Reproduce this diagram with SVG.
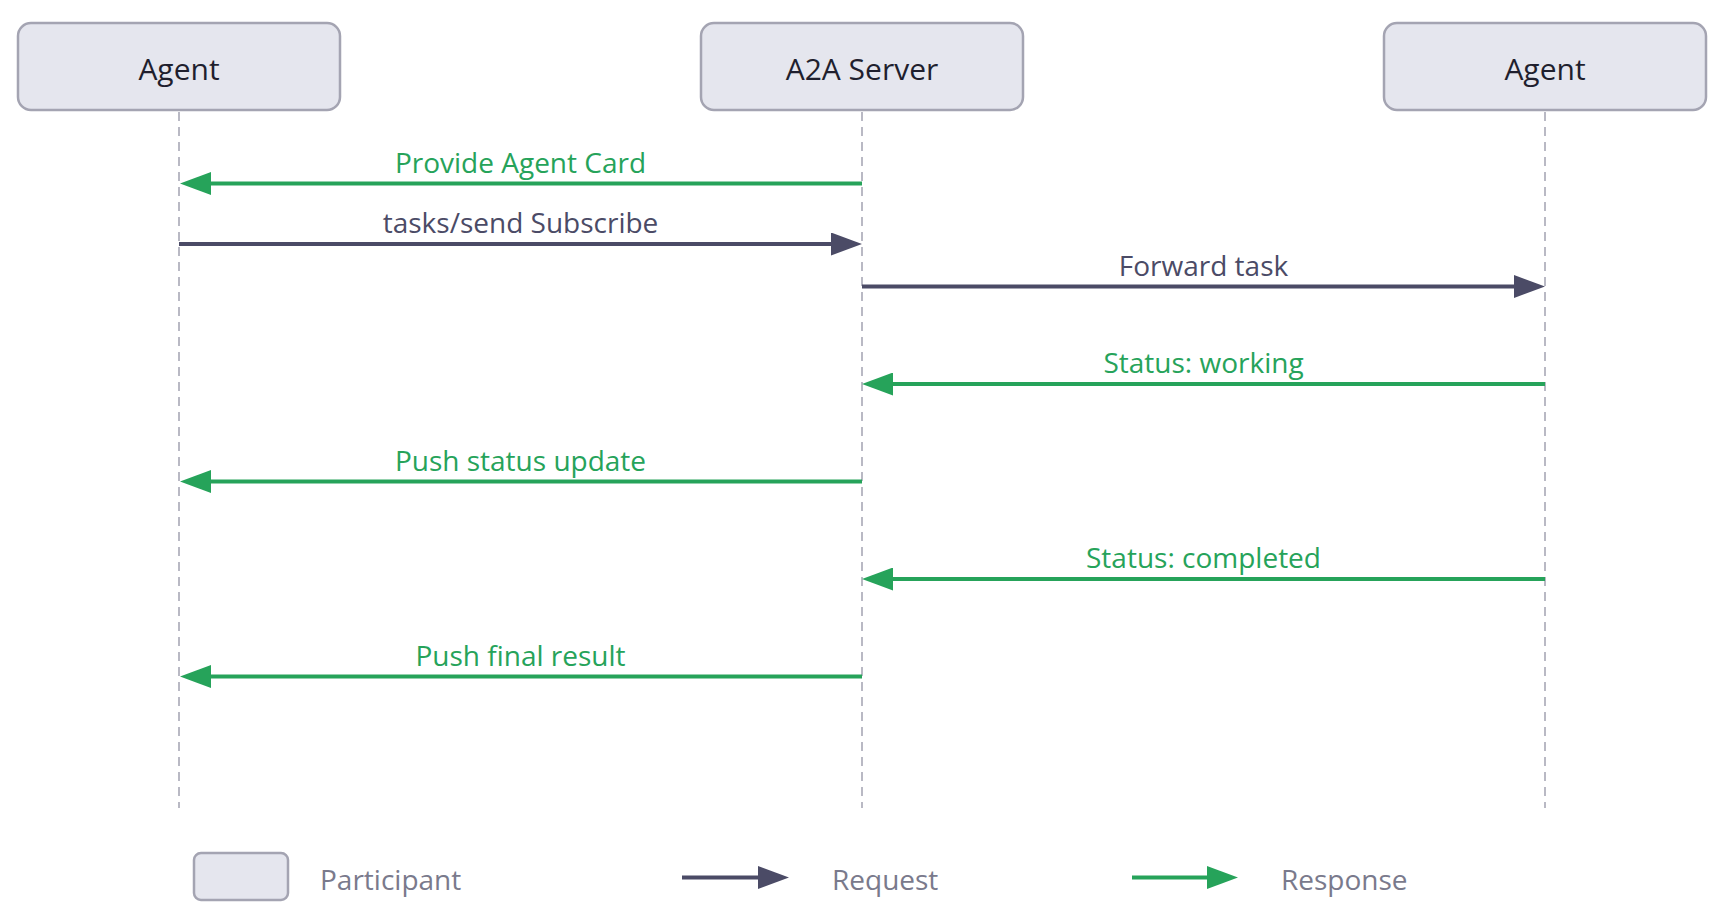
<svg xmlns="http://www.w3.org/2000/svg" width="1722" height="924" viewBox="0 0 1722 924">
<style>
  .box { fill: #e5e6ee; stroke: #a4a4b2; stroke-width: 2.5; }
  .pname { font-family: "Open Sans", "Liberation Sans", sans-serif; font-size: 30px; fill: #1f1f2e; text-anchor: middle; }
  .life { stroke: #b9b9c4; stroke-width: 2; stroke-dasharray: 9 6; fill: none; }
  .req { stroke: #4b4b66; stroke-width: 4; fill: none; marker-end: url(#ah-req); }
  .res { stroke: #26a35a; stroke-width: 4; fill: none; marker-end: url(#ah-res); }
  .lbl { font-family: "Open Sans", "Liberation Sans", sans-serif; font-size: 28px; text-anchor: middle; }
  .lreq { fill: #4b4b66; }
  .lres { fill: #26a35a; }
  .leg { font-family: "Open Sans", "Liberation Sans", sans-serif; font-size: 28px; fill: #7a7a8c; }
</style>
<defs>
  <marker id="ah-req" markerUnits="userSpaceOnUse" markerWidth="32" markerHeight="23" refX="0" refY="11.5" orient="auto">
    <path d="M0,0 L31,11.5 L0,23 z" fill="#4b4b66"/>
  </marker>
  <marker id="ah-res" markerUnits="userSpaceOnUse" markerWidth="32" markerHeight="23" refX="0" refY="11.5" orient="auto">
    <path d="M0,0 L31,11.5 L0,23 z" fill="#26a35a"/>
  </marker>
</defs>
<rect width="1722" height="924" fill="#ffffff"/>

<g id="lifelines">
  <line class="life" x1="179" y1="112" x2="179" y2="808"/>
  <line class="life" x1="862" y1="112" x2="862" y2="808"/>
  <line class="life" x1="1545" y1="112" x2="1545" y2="808"/>
</g>

<g id="agent-left">
  <rect class="box" x="18" y="23" width="322" height="87" rx="13"/>
  <text class="pname" x="179" y="80">Agent</text>
</g>
<g id="a2a-server">
  <rect class="box" x="701" y="23" width="322" height="87" rx="13"/>
  <text class="pname" x="862" y="80">A2A Server</text>
</g>
<g id="agent-right">
  <rect class="box" x="1384" y="23" width="322" height="87" rx="13"/>
  <text class="pname" x="1545" y="80">Agent</text>
</g>

<g id="connectors">
  <line class="res" x1="862" y1="183.5" x2="211" y2="183.5"/>
  <text class="lbl lres" x="520.5" y="172.5">Provide Agent Card</text>

  <line class="req" x1="179" y1="244" x2="831" y2="244"/>
  <text class="lbl lreq" x="520.5" y="233">tasks/send Subscribe</text>

  <line class="req" x1="862" y1="286.5" x2="1514" y2="286.5"/>
  <text class="lbl lreq" x="1203.5" y="275.5">Forward task</text>

  <line class="res" x1="1545" y1="384" x2="893" y2="384"/>
  <text class="lbl lres" x="1203.5" y="373">Status: working</text>

  <line class="res" x1="862" y1="481.5" x2="211" y2="481.5"/>
  <text class="lbl lres" x="520.5" y="470.5">Push status update</text>

  <line class="res" x1="1545" y1="579" x2="893" y2="579"/>
  <text class="lbl lres" x="1203.5" y="568">Status: completed</text>

  <line class="res" x1="862" y1="676.5" x2="211" y2="676.5"/>
  <text class="lbl lres" x="520.5" y="665.5">Push final result</text>
</g>

<g id="legend">
  <rect class="box" x="194" y="853" width="94" height="47" rx="7"/>
  <text class="leg" x="320" y="890">Participant</text>
  <line class="req" x1="682" y1="877.5" x2="758" y2="877.5"/>
  <text class="leg" x="832" y="890">Request</text>
  <line class="res" x1="1132" y1="877.5" x2="1207" y2="877.5"/>
  <text class="leg" x="1281" y="890">Response</text>
</g>
</svg>
